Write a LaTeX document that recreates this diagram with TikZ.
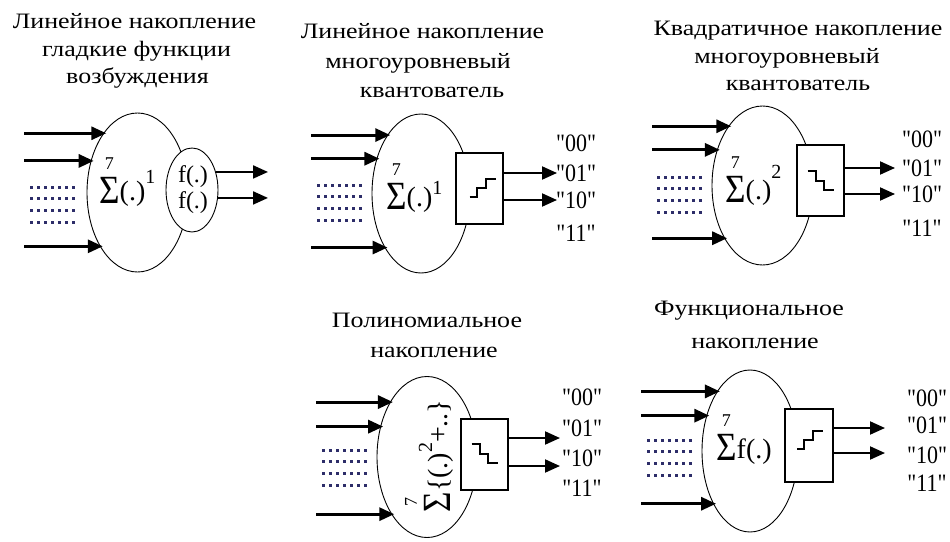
\documentclass[tikz,border=0pt]{standalone}
\usepackage{fontspec}
\setmainfont{Liberation Serif}
\newfontfamily\capfont[FakeStretch=1.18]{Liberation Serif}
\newfontfamily\bitfont[FakeStretch=0.88]{Liberation Serif}
\usetikzlibrary{shapes.geometric,arrows.meta}

\definecolor{dotcol}{RGB}{45,45,105}

\newcommand{\sigfont}{\bitfont\fontsize{40}{40}\selectfont}
\newcommand{\argfont}{\fontsize{28}{28}\selectfont}
\newcommand{\limfont}{\fontsize{18}{18}\selectfont}
\newcommand{\supfont}{\fontsize{20}{20}\selectfont}
% sigma with the upper limit 7 stacked above it
\newcommand{\summa}{\vbox{\offinterlineskip\halign{\hfil##\hfil\cr
  \limfont 7\cr\noalign{\vskip 7pt}\sigfont Σ\cr}}}
\newcommand{\power}[2]{\raisebox{#1}{\supfont #2}}
\newcommand{\stairup}[2]{\draw[stair] ([shift={#2}]#1.center) -- ++(7,0) -- ++(0,-9) -- ++(9,0) -- ++(0,-9) -- ++(10,0);}
\newcommand{\stairdown}[2]{\draw[stair] ([shift={#2}]#1.center) -- ++(8,0) -- ++(0,10) -- ++(8,0) -- ++(0,9) -- ++(10,0);}
\newcommand{\dotgrid}[2]{\foreach \row in {0,...,3} \foreach \col in {0,...,6}
  \fill[dotcol] ({#1+7*\col-1.5},{#2+11.8*\row-1.5}) rectangle ++(3,3);}

\begin{document}
\begin{tikzpicture}[x=1pt, y=-1pt,
    caption/.style = {font=\capfont\fontsize{22}{26}\selectfont, anchor=base, inner sep=0},
    cell/.style = {draw, ellipse, line width=0.9pt, fill=white, inner sep=0},
    quant/.style = {draw, rectangle, line width=1.2pt, fill=white, minimum width=47pt, minimum height=71pt},
    formula/.style = {anchor=base west, inner sep=0},
    fout/.style = {align=center, font=\fontsize{24}{26}\selectfont, inner sep=0},
    bits/.style = {font=\bitfont\fontsize{25}{25}\selectfont, inner sep=0},
    inarrow/.style = {line width=3pt, -{Triangle[length=15pt,width=13pt]}, shorten >=-3pt},
    outarrow/.style = {line width=2pt, -{Triangle[length=15pt,width=13pt]}},
    stair/.style = {line width=2pt}]
\path[use as bounding box, fill=white] (0,0) rectangle (950,541);

% linear sum, smooth activation functions
\node[caption] (t11) at (134.5,28) {Линейное накопление};
\node[caption] (t12) at (136.5,56) {гладкие функции};
\node[caption] (t13) at (137.5,83) {возбуждения};
\node[cell, minimum width=101pt, minimum height=159pt] (e1) at (137.5,192.5) {};
\node[cell, minimum width=52pt, minimum height=84pt] (p1) at (192,190) {};
\node[formula] (s1) at (99,203) {\summa\raisebox{3pt}{\argfont(.)}\power{20pt}{1}};
\node[fout] (f1) at (193,190) {f(.)\\f(.)};
\coordinate (L1) at (24,0);
\coordinate (R1) at (268,0);
\foreach \a in {120,146,235} \draw[inarrow] (e1.\a -| L1) -- (e1.\a);
\foreach \a in {37,343} \draw[outarrow] (p1.\a) -- (p1.\a -| R1);
\dotgrid{31}{187}

% linear sum, multilevel quantizer
\node[caption] (t21) at (422.5,38) {Линейное накопление};
\node[caption] (t22) at (418,68) {многоуровневый};
\node[caption] (t23) at (432,97) {квантователь};
\node[cell, minimum width=98pt, minimum height=159pt] (e2) at (421,193.5) {};
\node[quant] (q2) at (479.5,188.5) {};
\stairup{q2}{(-10,8)}
\node[formula] (s2) at (386,209) {\summa\raisebox{3pt}{\argfont(.)}\power{15pt}{1}};
\coordinate (L2) at (311,0);
\coordinate (R2) at (557,0);
\foreach \a in {120,142,236} \draw[inarrow] (e2.\a -| L2) -- (e2.\a);
\foreach \d in {15.5,-11.5} \draw[outarrow] ([yshift=\d]q2.east) -- ([yshift=\d]q2.east -| R2);
\foreach \lbl/\y [count=\i] in {00/143,01/173,10/200,11/233}
  \node[bits] (b2\i) at (576,\y) {"\lbl"};
\dotgrid{318}{185}

% quadratic sum, multilevel quantizer
\node[caption] (t31) at (798,35) {Квадратичное накопление};
\node[caption] (t32) at (787,63) {многоуровневый};
\node[caption] (t33) at (798,90) {квантователь};
\node[cell, minimum width=101pt, minimum height=159pt] (e3) at (762.5,185.5) {};
\node[quant] (q3) at (820.5,180.5) {};
\stairdown{q3}{(-13,-10)}
\node[formula] (s3) at (725,202) {\summa\raisebox{3pt}{\argfont(.)}\power{24pt}{2}};
\coordinate (L3) at (652,0);
\coordinate (R3) at (895,0);
\foreach \a in {120,142,234} \draw[inarrow] (e3.\a -| L3) -- (e3.\a);
\foreach \d in {12.5,-13.5} \draw[outarrow] ([yshift=\d]q3.east) -- ([yshift=\d]q3.east -| R3);
\foreach \lbl/\y [count=\i] in {00/139,01/168,10/194,11/228}
  \node[bits] (b3\i) at (922,\y) {"\lbl"};
\dotgrid{658}{177}

% polynomial sum
\node[caption] (t41) at (427,327) {Полиномиальное};
\node[caption] (t42) at (434,357) {накопление};
\node[cell, minimum width=100pt, minimum height=161pt] (e4) at (427,457) {};
\node[quant] (q4) at (484.5,454.5) {};
\stairdown{q4}{(-13,-11)}
\node[formula, anchor=center, rotate=90] (s4) at (429,456)
  {\summa\raisebox{3pt}{\argfont\{(.)}\power{18pt}{2}\raisebox{3pt}{\argfont+..\}}};
\coordinate (L4) at (316,0);
\coordinate (R4) at (560,0);
\foreach \a in {124,147,238} \draw[inarrow] (e4.\a -| L4) -- (e4.\a);
\foreach \d in {16.5,-11.5} \draw[outarrow] ([yshift=\d]q4.east) -- ([yshift=\d]q4.east -| R4);
\foreach \lbl/\y [count=\i] in {00/397,01/428,10/458,11/488}
  \node[bits] (b4\i) at (582,\y) {"\lbl"};
\dotgrid{323}{450}

% functional sum
\node[caption] (t51) at (749,315) {Функциональное};
\node[caption] (t52) at (755,348) {накопление};
\node[cell, minimum width=96pt, minimum height=162pt] (e5) at (750,451) {};
\node[quant, minimum width=48pt, minimum height=73pt] (q5) at (809,445.5) {};
\stairup{q5}{(-12,3)}
\node[formula] (s5) at (716,460) {\summa\raisebox{2pt}{\argfont f(.)}};
\coordinate (L5) at (641,0);
\coordinate (R5) at (885,0);
\foreach \a in {119,141,235} \draw[inarrow] (e5.\a -| L5) -- (e5.\a);
\foreach \d in {17.5,-7.5} \draw[outarrow] ([yshift=\d]q5.east) -- ([yshift=\d]q5.east -| R5);
\foreach \lbl/\y [count=\i] in {00/398,01/425,10/455,11/483}
  \node[bits] (b5\i) at (927,\y) {"\lbl"};
\dotgrid{648}{440}
\end{tikzpicture}
\end{document}
